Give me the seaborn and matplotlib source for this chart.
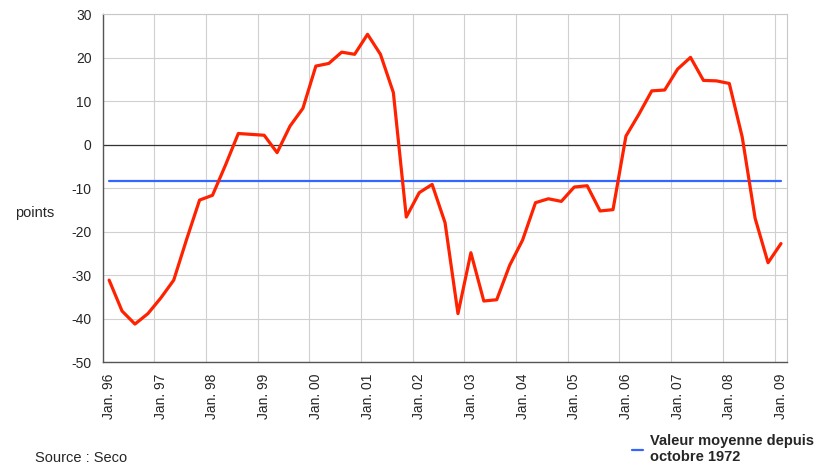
import numpy as np
import pandas as pd
import seaborn as sns
import matplotlib.pyplot as plt
from matplotlib.lines import Line2D

# indice trimestriel, janv. 1996 - janv. 2009
valeurs = [
    -31.1, -38.2, -41.2, -38.8, -35.2, -31.1, -21.7, -12.7,
    -11.6, -4.7, 2.6, 2.4, 2.2, -1.8, 4.3, 8.4,
    18.1, 18.7, 21.3, 20.8, 25.4, 20.8, 12.0, -16.6,
    -11.0, -9.1, -17.9, -38.8, -24.8, -35.9, -35.6, -27.7,
    -21.9, -13.3, -12.4, -13.0, -9.7, -9.4, -15.2, -14.9,
    2.0, 7.0, 12.4, 12.6, 17.4, 20.1, 14.8, 14.7,
    14.1, 1.8, -16.9, -27.1, -22.7,
]
moyenne = -8.3
etiquettes = ["Jan. 96", "Jan. 97", "Jan. 98", "Jan. 99", "Jan. 00", "Jan. 01",
              "Jan. 02", "Jan. 03", "Jan. 04", "Jan. 05", "Jan. 06", "Jan. 07",
              "Jan. 08", "Jan. 09"]

df = pd.DataFrame({"trimestre": np.arange(len(valeurs)), "indice": valeurs})
df["moyenne"] = moyenne

sns.set_style("white")
plt.rcParams["font.family"] = ["Liberation Sans", "DejaVu Sans"]
plt.rcParams["axes.unicode_minus"] = False

fig = plt.figure(figsize=(8.28, 4.70), dpi=100)
ax = fig.add_axes([0.124, 0.229, 0.827, 0.7406])

sns.lineplot(data=df, x="trimestre", y="moyenne", color="#3366ff", lw=1.6, ax=ax)
sns.lineplot(data=df, x="trimestre", y="indice", color="#ff2200", lw=2.3, ax=ax)
ax.axhline(0, color="#333333", lw=0.9, zorder=1)

n = len(valeurs)
ax.set_xlim(-0.5, n - 0.5)
ax.set_ylim(-50, 30)
ax.set_yticks(range(-50, 31, 10))
ax.set_xticks(range(0, n, 4))
ax.set_xticklabels(etiquettes, rotation=90, fontsize=10)
ax.set_xticks(np.arange(-0.5, n, 4), minor=True)
ax.tick_params(axis="x", which="major", length=0, pad=8)
ax.tick_params(axis="x", which="minor", length=4, color="#555555", direction="out")
ax.tick_params(axis="y", length=4, color="#555555", direction="out", labelsize=10, pad=4)
ax.grid(axis="y", color="#d0d0d0", lw=0.8)
ax.grid(axis="x", which="minor", color="#d0d0d0", lw=0.8)
ax.set_xlabel("")
ax.set_ylabel("")

for side in ["left", "bottom"]:
    ax.spines[side].set_color("#555555")
    ax.spines[side].set_linewidth(1)
for side in ["top", "right"]:
    ax.spines[side].set_color("#c8c8c8")
    ax.spines[side].set_linewidth(0.8)

fig.text(0.042, 0.547, "points", ha="center", va="center", fontsize=10.5)

poignee = Line2D([], [], color="#3366ff", lw=1.6)
fig.legend(handles=[poignee], labels=["Valeur moyenne depuis\noctobre 1972"],
           loc="upper left", bbox_to_anchor=(0.755, 0.092), frameon=False,
           handlelength=0.7, handletextpad=0.5, borderpad=0,
           prop={"family": ["Liberation Sans Narrow", "Liberation Sans"],
                 "weight": "bold", "size": 10.5})

fig.text(0.042, 0.04, "Source : Seco", ha="left", va="top", fontsize=10.5)

fig.savefig("out.png", dpi=100)
